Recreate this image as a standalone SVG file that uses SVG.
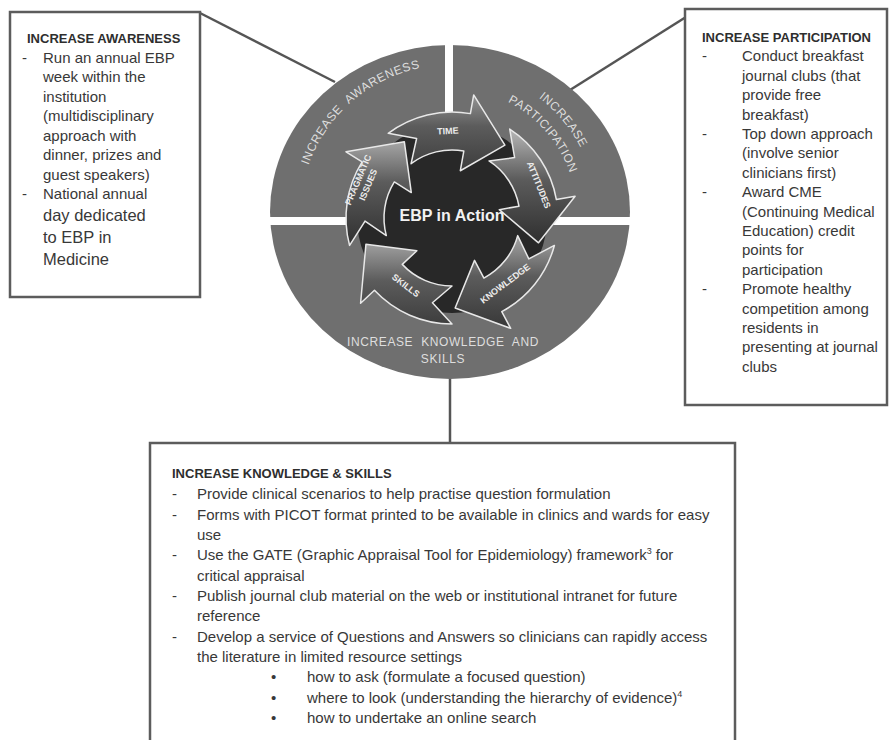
<svg xmlns="http://www.w3.org/2000/svg" width="889" height="740" viewBox="0 0 889 740">
<defs>
<style>
.box{fill:#fff;stroke:#5c5c5c;stroke-width:2.5}
.conn{stroke:#555;stroke-width:2.5;fill:none}
.t{font-family:"Liberation Sans",Arial,sans-serif;font-size:15px;fill:#383838}
.h{font-family:"Liberation Sans",Arial,sans-serif;font-size:13px;font-weight:bold;fill:#2e2e2e}
.big{font-size:16.5px}
.sup{font-size:9px}
.ring{font-family:"Liberation Sans",Arial,sans-serif;font-size:12px;fill:#dedede;letter-spacing:0.6px}
.al{font-family:"Liberation Sans",Arial,sans-serif;font-size:9px;font-weight:bold;fill:#ececec;text-anchor:middle}
.arr{stroke:#e8e8e8;stroke-width:1.5;stroke-linejoin:round}
</style>
<path id="arrow" d="M86.83,-60.80 A106,106 0 0 1 103.68,22.04 L122.26,25.99 L70.92,55.41 L46.95,9.98 L66.51,14.14 A68,68 0 0 0 55.70,-39.00 L80.67,-32.59 Z"/>
<linearGradient id="gTime" gradientUnits="userSpaceOnUse" x1="154.96" y1="2.44" x2="15.04" y2="-2.44"><stop offset="0" stop-color="#cfcfcf"/><stop offset="0.45" stop-color="#5c5c5c"/><stop offset="1" stop-color="#262626"/></linearGradient>
<linearGradient id="gAtt" gradientUnits="userSpaceOnUse" x1="111.22" y1="-64.9" x2="58.78" y2="64.9"><stop offset="0" stop-color="#cfcfcf"/><stop offset="0.45" stop-color="#5c5c5c"/><stop offset="1" stop-color="#262626"/></linearGradient>
<linearGradient id="gKnow" gradientUnits="userSpaceOnUse" x1="31.38" y1="-45" x2="138.62" y2="45"><stop offset="0" stop-color="#cfcfcf"/><stop offset="0.45" stop-color="#5c5c5c"/><stop offset="1" stop-color="#262626"/></linearGradient>
<linearGradient id="gSkill" gradientUnits="userSpaceOnUse" x1="27.66" y1="40.15" x2="142.34" y2="-40.15"><stop offset="0" stop-color="#cfcfcf"/><stop offset="0.45" stop-color="#5c5c5c"/><stop offset="1" stop-color="#262626"/></linearGradient>
<linearGradient id="gPrag" gradientUnits="userSpaceOnUse" x1="108.94" y1="65.78" x2="61.06" y2="-65.78"><stop offset="0" stop-color="#cfcfcf"/><stop offset="0.45" stop-color="#5c5c5c"/><stop offset="1" stop-color="#262626"/></linearGradient>
<path id="pAware" d="M301.85,191.54 A150,150 0 0 1 447.38,65.02"/>
<path id="pInc" d="M475.53,70.23 A147,147 0 0 1 597,215"/>
<path id="pPart" d="M469.87,89.56 A127,127 0 0 1 576.98,212.78"/>
</defs>
<rect width="889" height="740" fill="#fff"/>

<g id="connectors">
<line class="conn" x1="200" y1="13" x2="335" y2="82"/>
<line class="conn" x1="686" y1="17" x2="570" y2="90"/>
<line class="conn" x1="450" y1="378" x2="450" y2="443"/>
</g>

<g id="node-cycle">
<ellipse cx="450" cy="212" rx="180" ry="167" fill="#6f6f6f"/>
<rect x="445" y="40" width="8" height="185" fill="#fff"/>
<rect x="265" y="217" width="370" height="8" fill="#fff"/>
<circle cx="452" cy="218" r="95" fill="#282828"/>
<use href="#arrow" class="arr" fill="url(#gTime)" transform="translate(452,218) rotate(-92)"/>
<use href="#arrow" class="arr" fill="url(#gAtt)" transform="translate(452,218) rotate(-22)"/>
<use href="#arrow" class="arr" fill="url(#gKnow)" transform="translate(452,218) rotate(50)"/>
<use href="#arrow" class="arr" fill="url(#gSkill)" transform="translate(452,218) rotate(125)"/>
<use href="#arrow" class="arr" fill="url(#gPrag)" transform="translate(452,218) rotate(200)"/>
<text class="ring" word-spacing="4"><textPath href="#pAware" startOffset="50%" text-anchor="middle">INCREASE AWARENESS</textPath></text>
<text class="ring"><textPath href="#pInc" startOffset="50%" text-anchor="middle">INCREASE</textPath></text>
<text class="ring" font-size="11.5"><textPath href="#pPart" startOffset="50%" text-anchor="middle">PARTICIPATION</textPath></text>
<text class="ring" x="443" y="346" text-anchor="middle" word-spacing="4">INCREASE KNOWLEDGE AND</text>
<text class="ring" x="443" y="363" text-anchor="middle">SKILLS</text>
<text class="al" transform="translate(448,134) rotate(-3)">TIME</text>
<text class="al" transform="translate(536,186) rotate(68)">ATTITUDES</text>
<text class="al" transform="translate(507,286) rotate(-37)">KNOWLEDGE</text>
<text class="al" transform="translate(404,288) rotate(37)">SKILLS</text>
<text class="al" font-size="8" transform="translate(361,181) rotate(-67)">PRAGMATIC</text>
<text class="al" font-size="8" transform="translate(371,186) rotate(-67)">ISSUES</text>
<text x="452" y="221" text-anchor="middle" font-family="Liberation Sans, Arial, sans-serif" font-size="16" font-weight="bold" fill="#f2f2f2">EBP in Action</text>
</g>

<g id="node-awareness">
<rect class="box" x="10" y="12" width="190" height="285"/>
<text class="h" x="27" y="43">INCREASE AWARENESS</text>
<text class="t" x="22" y="62.5">-</text>
<text class="t" x="43" y="62.5">Run an annual EBP</text>
<text class="t" x="43" y="82">week within the</text>
<text class="t" x="43" y="101.5">institution</text>
<text class="t" x="43" y="121">(multidisciplinary</text>
<text class="t" x="43" y="140.5">approach with</text>
<text class="t" x="43" y="160">dinner, prizes and</text>
<text class="t" x="43" y="179.5">guest speakers)</text>
<text class="t" x="22" y="199">-</text>
<text class="t" x="43" y="199">National annual</text>
<text class="t big" x="43" y="221">day dedicated</text>
<text class="t big" x="43" y="243">to EBP in</text>
<text class="t big" x="43" y="265">Medicine</text>
</g>

<g id="node-participation">
<rect class="box" x="685" y="9" width="202" height="396"/>
<text class="h" x="702" y="42">INCREASE PARTICIPATION</text>
<text class="t" x="702" y="61.4">-</text>
<text class="t" x="742" y="61.4">Conduct breakfast</text>
<text class="t" x="742" y="80.8">journal clubs (that</text>
<text class="t" x="742" y="100.2">provide free</text>
<text class="t" x="742" y="119.6">breakfast)</text>
<text class="t" x="702" y="139">-</text>
<text class="t" x="742" y="139">Top down approach</text>
<text class="t" x="742" y="158.4">(involve senior</text>
<text class="t" x="742" y="177.8">clinicians first)</text>
<text class="t" x="702" y="197.2">-</text>
<text class="t" x="742" y="197.2">Award CME</text>
<text class="t" x="742" y="216.6">(Continuing Medical</text>
<text class="t" x="742" y="236">Education) credit</text>
<text class="t" x="742" y="255.4">points for</text>
<text class="t" x="742" y="274.8">participation</text>
<text class="t" x="702" y="294.2">-</text>
<text class="t" x="742" y="294.2">Promote healthy</text>
<text class="t" x="742" y="313.6">competition among</text>
<text class="t" x="742" y="333">residents in</text>
<text class="t" x="742" y="352.4">presenting at journal</text>
<text class="t" x="742" y="371.8">clubs</text>
</g>

<g id="node-knowledge">
<rect class="box" x="150" y="443" width="585" height="310"/>
<text class="h" x="172" y="478">INCREASE KNOWLEDGE &amp; SKILLS</text>
<text class="t" x="172" y="499">-</text>
<text class="t" x="197" y="499">Provide clinical scenarios to help practise question formulation</text>
<text class="t" x="172" y="519.5">-</text>
<text class="t" x="197" y="519.5">Forms with PICOT format printed to be available in clinics and wards for easy</text>
<text class="t" x="197" y="540">use</text>
<text class="t" x="172" y="560">-</text>
<text class="t" x="197" y="560">Use the GATE (Graphic Appraisal Tool for Epidemiology) framework<tspan class="sup" dy="-6">3</tspan><tspan dy="6"> for</tspan></text>
<text class="t" x="197" y="580.5">critical appraisal</text>
<text class="t" x="172" y="601">-</text>
<text class="t" x="197" y="601">Publish journal club material on the web or institutional intranet for future</text>
<text class="t" x="197" y="621">reference</text>
<text class="t" x="172" y="641.5">-</text>
<text class="t" x="197" y="641.5">Develop a service of Questions and Answers so clinicians can rapidly access</text>
<text class="t" x="197" y="662">the literature in limited resource settings</text>
<text class="t" x="271" y="682">•</text>
<text class="t" x="307" y="682">how to ask (formulate a focused question)</text>
<text class="t" x="271" y="702.5">•</text>
<text class="t" x="307" y="702.5">where to look (understanding the hierarchy of evidence)<tspan class="sup" dy="-6">4</tspan></text>
<text class="t" x="271" y="723">•</text>
<text class="t" x="307" y="723">how to undertake an online search</text>
</g>
</svg>
